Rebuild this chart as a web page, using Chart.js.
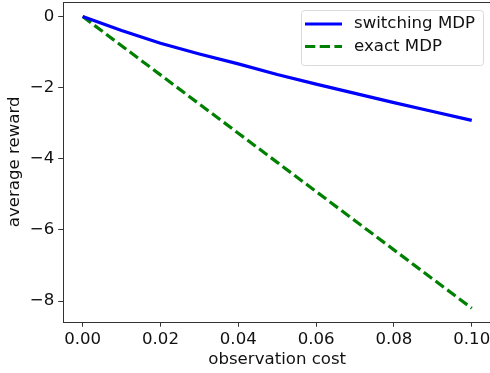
<!DOCTYPE html>
<html>
<head>
<meta charset="utf-8">
<script src="https://cdn.jsdelivr.net/npm/chart.js@4.4.0/dist/chart.umd.min.js"></script>
<style>
html,body{margin:0;padding:0;background:#fff;overflow:hidden;}
#wrap{position:absolute;left:0;top:0;width:496px;height:373px;}
</style>
</head>
<body>
<div id="wrap"><canvas id="c" width="496" height="373"></canvas></div>
<script>
const costs = [0, 0.01, 0.02, 0.03, 0.04, 0.05, 0.06, 0.07, 0.08, 0.09, 0.10];
const switchingMDP = [0, -0.39, -0.75, -1.05, -1.33, -1.63, -1.90, -2.16, -2.42, -2.67, -2.92];
const exactMDP = [0, -0.82, -1.64, -2.46, -3.28, -4.10, -4.92, -5.74, -6.56, -7.38, -8.20];
const xTicks = [0, 0.02, 0.04, 0.06, 0.08, 0.10];
const yTicks = [-8, -6, -4, -2, 0];
const seriesNames = ['switching MDP', 'exact MDP'];

const FONT = 'DejaVu Sans';
const FS = 16.6;
const fmtMinus = v => (v < 0 ? '\u2212' + Math.abs(v) : String(v));

const frame = {
  id: 'frame',
  afterDatasetsDraw(chart) {
    const {ctx, chartArea: a} = chart;
    ctx.save();
    ctx.strokeStyle = '#333';
    ctx.lineWidth = 1;
    ctx.strokeRect(Math.round(a.left) + 0.5, Math.round(a.top) + 0.5, Math.round(a.right - a.left), Math.round(a.bottom - a.top));
    // legend
    const lx = 301, ly = 10, lw = 182, lh = 55;
    ctx.fillStyle = 'rgba(255,255,255,0.8)';
    ctx.strokeStyle = '#d9d9d9';
    ctx.lineWidth = 1;
    ctx.beginPath();
    ctx.roundRect(lx + 0.5, ly + 0.5, lw, lh, 3);
    ctx.fill();
    ctx.stroke();
    chart.data.datasets.forEach((ds, i) => {
      const cy = 24 + i * 22.5;
      ctx.strokeStyle = ds.borderColor;
      ctx.lineWidth = ds.borderWidth;
      ctx.setLineDash(ds.borderDash || []);
      ctx.beginPath();
      ctx.moveTo(305, cy);
      ctx.lineTo(342, cy);
      ctx.stroke();
      ctx.setLineDash([]);
      ctx.fillStyle = '#111';
      ctx.font = FS + 'px "' + FONT + '"';
      ctx.textBaseline = 'middle';
      ctx.textAlign = 'left';
      ctx.fillText(ds.label, 354, cy);
    });
    ctx.restore();
  }
};

new Chart(document.getElementById('c'), {
  type: 'line',
  data: {
    labels: costs,
    datasets: [
      {
        label: seriesNames[0],
        data: costs.map((x, i) => ({x, y: switchingMDP[i]})),
        borderColor: '#0000ff',
        borderWidth: 3.2,
        pointRadius: 0,
        tension: 0,
        fill: false
      },
      {
        label: seriesNames[1],
        data: costs.map((x, i) => ({x, y: exactMDP[i]})),
        borderColor: '#008000',
        borderWidth: 3.2,
        borderDash: [10.3, 4.4],
        pointRadius: 0,
        tension: 0,
        fill: false
      }
    ]
  },
  options: {
    responsive: false,
    animation: false,
    devicePixelRatio: 1,
    layout: {padding: {top: 2, right: 4.8, left: 0, bottom: 0}},
    plugins: {legend: {display: false}, tooltip: {enabled: false}},
    scales: {
      x: {
        type: 'linear',
        min: -0.005,
        max: 0.105,
        afterBuildTicks: s => { s.ticks = xTicks.map(v => ({value: v})); },
        afterFit: s => { s.height = 51.3; s.paddingLeft = 0; s.paddingRight = 0; },
        border: {display: false},
        grid: {display: true, drawOnChartArea: false, drawTicks: true, tickLength: 5, color: '#333', tickColor: '#333'},
        ticks: {
          color: '#111', padding: 3, maxRotation: 0, autoSkip: false,
          font: {family: FONT, size: FS},
          callback: v => v.toFixed(2)
        },
        title: {display: true, text: 'observation cost', color: '#111', font: {family: FONT, size: FS}, padding: {top: 2, bottom: 3}}
      },
      y: {
        type: 'linear',
        min: -8.58,
        max: 0.41,
        afterBuildTicks: s => { s.ticks = yTicks.map(v => ({value: v})); },
        afterFit: s => { s.width = 63.2; s.paddingTop = 0; s.paddingBottom = 0; },
        border: {display: false},
        grid: {display: true, drawOnChartArea: false, drawTicks: true, tickLength: 5, color: '#333', tickColor: '#333'},
        ticks: {
          color: '#111', padding: 4, autoSkip: false,
          font: {family: FONT, size: FS},
          callback: v => fmtMinus(v)
        },
        title: {display: true, text: 'average reward', color: '#111', font: {family: FONT, size: FS}, padding: {top: 5, bottom: 2}}
      }
    }
  },
  plugins: [frame]
});
</script>
</body>
</html>
